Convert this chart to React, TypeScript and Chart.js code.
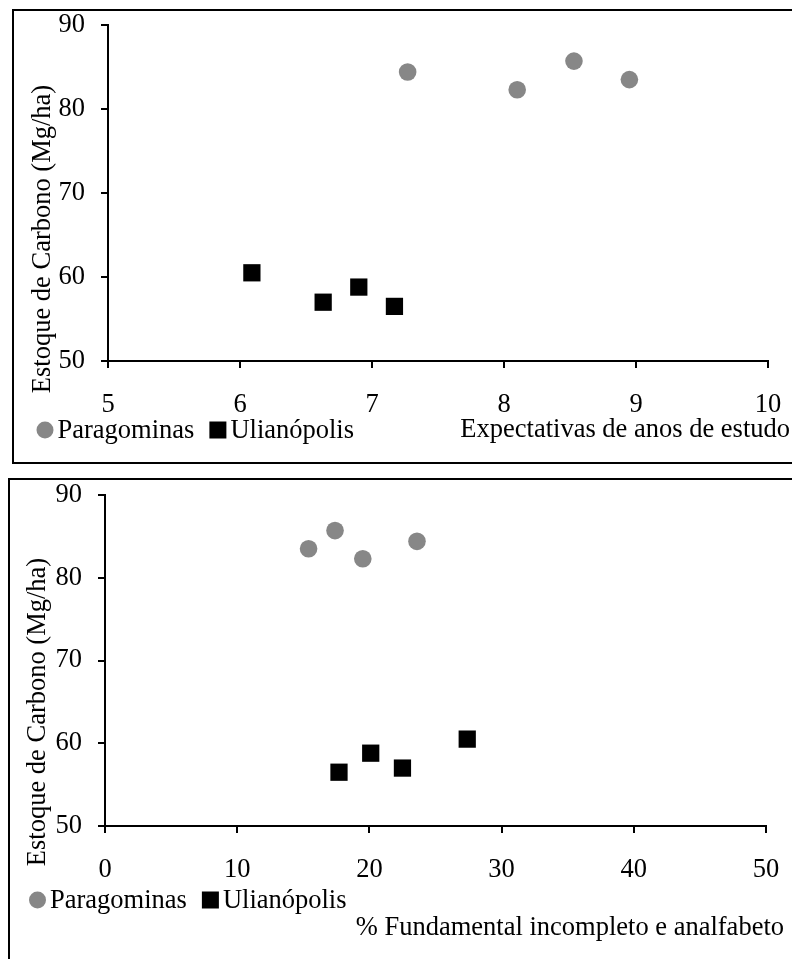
import React, { useEffect, useRef } from "react";
import { Chart, registerables } from "chart.js";

Chart.register(...registerables);

// ---- data ----
const seriesNames = ["Paragominas", "Ulianópolis"];
const carbonParagominas = [84.4, 82.3, 85.7, 83.5];
const studyYearsParagominas = [7.27, 8.1, 8.53, 8.95];
const incompleteParagominas = [23.6, 19.5, 17.4, 15.4];
const carbonUlianopolis = [60.5, 57.0, 58.8, 56.5];
const studyYearsUlianopolis = [6.09, 6.63, 6.9, 7.17];
const incompleteUlianopolis = [27.4, 22.5, 20.1, 17.7];

const yAxisTitle = "Estoque de Carbono (Mg/ha)";
const xTitleTop = "Expectativas de anos de estudo";
const xTitleBottom = "% Fundamental incompleto e analfabeto";
const yRange = [50, 90, 10];
const xRangeTop = [5, 10, 1];
const xRangeBottom = [0, 50, 10];

// ---- styles ----
const FONT = '"Liberation Serif", "Times New Roman", serif';
const FS = 26.5;
const GRAY = "#878787";

const overlayPlugin = {
  id: "overlay",
  afterDraw(chart: any, _args: any, o: any) {
    const ctx = chart.ctx as CanvasRenderingContext2D;
    ctx.save();
    ctx.font = `${FS}px ${FONT}`;
    ctx.fillStyle = "#000";
    // y title
    ctx.save();
    ctx.translate(o.yTitleX, o.yTitleY);
    ctx.rotate(-Math.PI / 2);
    ctx.textAlign = "center";
    ctx.textBaseline = "alphabetic";
    ctx.fillText(o.yTitle, 0, 0);
    ctx.restore();
    // legend
    ctx.textBaseline = "alphabetic";
    ctx.textAlign = "left";
    let x = o.legendX;
    const size = 17;
    const cy = o.legendBaseline - 8;
    chart.data.datasets.forEach((ds: any) => {
      ctx.fillStyle = ds.backgroundColor;
      if (ds.pointStyle === "circle") {
        ctx.beginPath();
        ctx.arc(x + size / 2, cy, size / 2, 0, Math.PI * 2);
        ctx.fill();
      } else {
        ctx.fillRect(x, cy - size / 2, size, size);
      }
      ctx.fillStyle = "#000";
      ctx.fillText(ds.label, x + size + 4, o.legendBaseline);
      x += size + 4 + ctx.measureText(ds.label).width + 15;
    });
    // x title
    ctx.textAlign = "right";
    ctx.fillText(o.xTitle, o.xTitleRight, o.xTitleBaseline);
    ctx.restore();
  },
};

type Geo = {
  w: number;
  h: number;
  top: number;
  right: number;
  yWidth: number;
  xHeight: number;
  overlay: any;
};

function makeConfig(
  xPar: number[],
  xUli: number[],
  xRange: number[],
  geo: Geo
): any {
  const tickFont = { family: FONT, size: FS };
  return {
    type: "scatter",
    data: {
      datasets: [
        {
          label: seriesNames[0],
          data: xPar.map((x, i) => ({ x, y: carbonParagominas[i] })),
          backgroundColor: GRAY,
          borderWidth: 0,
          pointStyle: "circle",
          pointRadius: 8.8,
          pointHoverRadius: 8.8,
        },
        {
          label: seriesNames[1],
          data: xUli.map((x, i) => ({ x, y: carbonUlianopolis[i] })),
          backgroundColor: "#000",
          borderWidth: 0,
          pointStyle: "rect",
          pointRadius: 12.2,
          pointHoverRadius: 12.2,
        },
      ],
    },
    options: {
      responsive: false,
      animation: false,
      devicePixelRatio: 1,
      layout: { padding: { top: geo.top, right: geo.right, left: 0, bottom: 0 } },
      plugins: {
        legend: { display: false },
        tooltip: { enabled: false },
        overlay: geo.overlay,
      },
      scales: {
        x: {
          type: "linear",
          min: xRange[0],
          max: xRange[1],
          ticks: {
            stepSize: xRange[2],
            color: "#000",
            font: tickFont,
            padding: 21,
            autoSkip: false,
            maxRotation: 0,
          },
          grid: {
            display: true,
            drawOnChartArea: false,
            drawTicks: true,
            tickLength: 7,
            color: "#000",
            lineWidth: 2,
          },
          border: { display: true, color: "#000", width: 2 },
          afterFit(s: any) {
            s.height = geo.xHeight;
            s.paddingLeft = 0;
            s.paddingRight = 0;
            s.paddingTop = 0;
            s.paddingBottom = 0;
          },
        },
        y: {
          type: "linear",
          min: yRange[0],
          max: yRange[1],
          ticks: {
            stepSize: yRange[2],
            color: "#000",
            font: tickFont,
            padding: 16,
          },
          grid: {
            display: true,
            drawOnChartArea: false,
            drawTicks: true,
            tickLength: 7,
            color: "#000",
            lineWidth: 2,
          },
          border: { display: true, color: "#000", width: 2 },
          afterFit(s: any) {
            s.width = geo.yWidth;
            s.paddingLeft = 0;
            s.paddingRight = 0;
            s.paddingTop = 0;
            s.paddingBottom = 0;
          },
        },
      },
    },
    plugins: [overlayPlugin],
  };
}

function ScatterBox(props: {
  boxLeft: number;
  boxTop: number;
  boxHeight: number;
  geo: Geo;
  xPar: number[];
  xUli: number[];
  xRange: number[];
}) {
  const ref = useRef<HTMLCanvasElement | null>(null);
  useEffect(() => {
    if (!ref.current) return;
    const chart = new Chart(
      ref.current,
      makeConfig(props.xPar, props.xUli, props.xRange, props.geo)
    );
    return () => chart.destroy();
  }, []);
  return (
    <div
      style={{
        position: "absolute",
        left: props.boxLeft,
        top: props.boxTop,
        width: 820,
        height: props.boxHeight,
        border: "2px solid #000",
        background: "#fff",
      }}
    >
      <canvas
        ref={ref}
        width={props.geo.w}
        height={props.geo.h}
        style={{ display: "block", width: props.geo.w, height: props.geo.h }}
      />
    </div>
  );
}

export default function App() {
  const topGeo: Geo = {
    w: 778,
    h: 451,
    top: 14,
    right: 24,
    yWidth: 94,
    xHeight: 101,
    overlay: {
      yTitle: yAxisTitle,
      yTitleX: 36,
      yTitleY: 228,
      legendX: 22.5,
      legendBaseline: 427,
      xTitle: xTitleTop,
      xTitleRight: 776,
      xTitleBaseline: 426,
    },
  };
  const bottomGeo: Geo = {
    w: 782,
    h: 479,
    top: 15,
    right: 26,
    yWidth: 95,
    xHeight: 133,
    overlay: {
      yTitle: yAxisTitle,
      yTitleX: 35,
      yTitleY: 232,
      legendX: 19,
      legendBaseline: 428,
      xTitle: xTitleBottom,
      xTitleRight: 774,
      xTitleBaseline: 455,
    },
  };
  return (
    <div
      style={{
        position: "absolute",
        left: 0,
        top: 0,
        width: 792,
        height: 959,
        overflow: "hidden",
        background: "#fff",
      }}
    >
      <ScatterBox
        boxLeft={12}
        boxTop={9}
        boxHeight={451}
        geo={topGeo}
        xPar={studyYearsParagominas}
        xUli={studyYearsUlianopolis}
        xRange={xRangeTop}
      />
      <ScatterBox
        boxLeft={8}
        boxTop={478}
        boxHeight={520}
        geo={bottomGeo}
        xPar={incompleteParagominas}
        xUli={incompleteUlianopolis}
        xRange={xRangeBottom}
      />
    </div>
  );
}
